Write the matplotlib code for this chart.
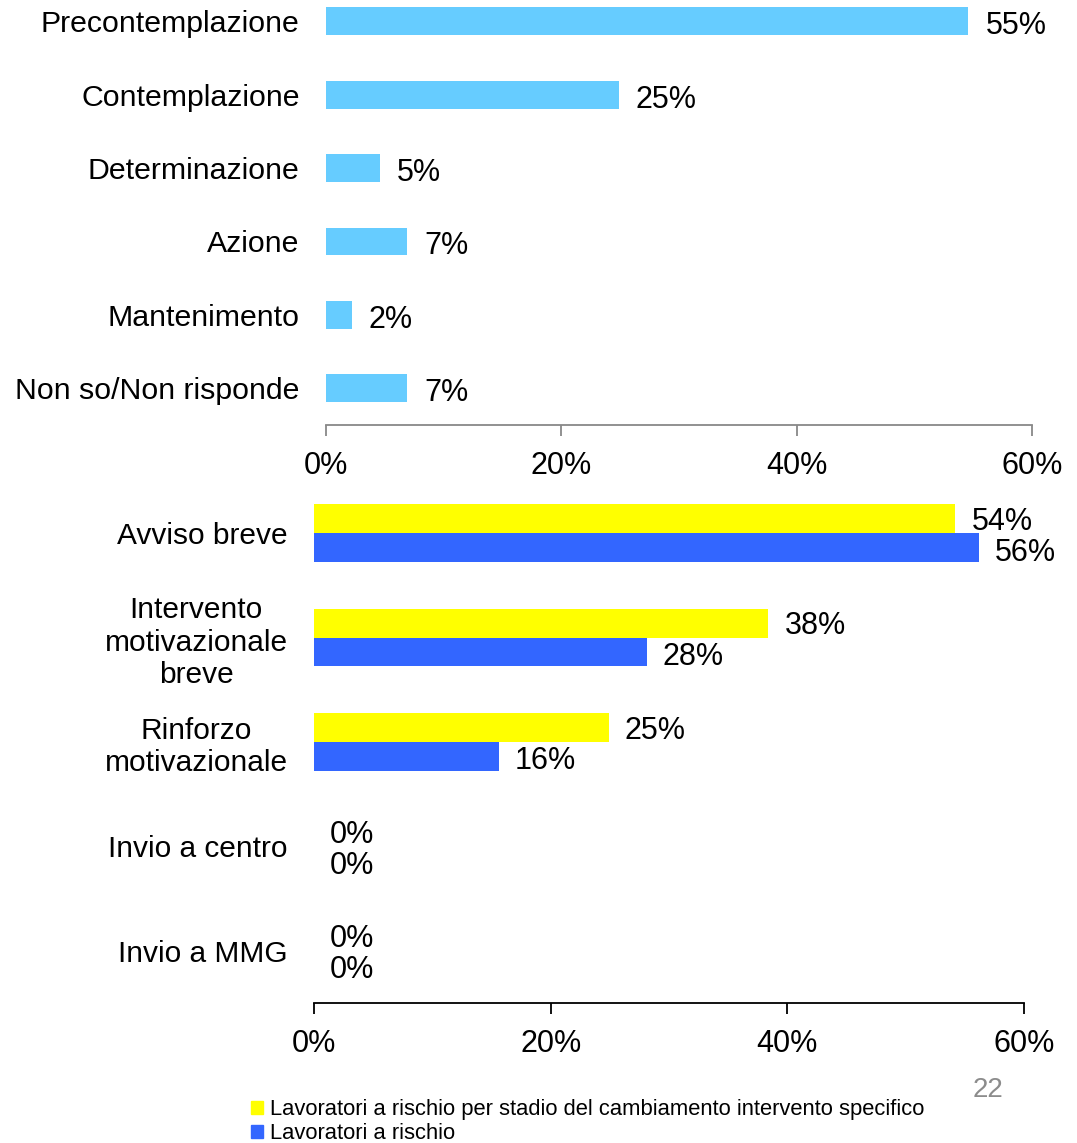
import matplotlib
matplotlib.use('Agg')
import matplotlib.pyplot as plt
from matplotlib.patches import Patch
from matplotlib import font_manager

# dati (percentuali)
stadi = ['Precontemplazione', 'Contemplazione', 'Determinazione', 'Azione',
         'Mantenimento', 'Non so/Non risponde']
stadi_val = [54.6, 24.9, 4.6, 6.9, 2.2, 6.9]

interventi = ['Avviso breve', 'Intervento\nmotivazionale\nbreve', 'Rinforzo\nmotivazionale',
              'Invio a centro', 'Invio a MMG']
specifico_val = [54.2, 38.4, 24.9, 0, 0]
rischio_val = [56.2, 28.1, 15.6, 0, 0]

serie_nomi = ['Lavoratori a rischio per stadio del cambiamento intervento specifico',
              'Lavoratori a rischio']
tick_val = [0, 20, 40, 60]
tick_lab = ['0%', '20%', '40%', '60%']

# font: Arial-like, numeri in versione stretta se disponibile
nomi = {f.name for f in font_manager.fontManager.ttflist}
font_base = 'Liberation Sans'
font_num = 'Liberation Sans Narrow' if 'Liberation Sans Narrow' in nomi else 'Liberation Sans'
plt.rcParams['font.family'] = [font_base, 'DejaVu Sans']

fig = plt.figure(figsize=(10.77, 11.43), dpi=100)
W, H = 1077, 1143


def ax_px(left, top, right, bottom):
    return fig.add_axes([left / W, 1 - bottom / H, (right - left) / W, (bottom - top) / H])


def stile_asse(ax, col):
    for s in ['top', 'right', 'left']:
        ax.spines[s].set_visible(False)
    ax.spines['bottom'].set_color(col)
    ax.spines['bottom'].set_linewidth(1.3)
    ax.set_xlim(0, 60)
    ax.set_xticks(tick_val)
    ax.set_xticklabels(tick_lab, fontsize=22, family=font_num)
    ax.tick_params(axis='x', colors=col, length=8, width=1.3, pad=11, labelcolor='black')
    ax.tick_params(axis='y', length=0, pad=19)


# grafico in alto
ax1 = ax_px(326, 0, 1032, 425)
y1 = list(range(len(stadi)))
ax1.barh(y1, stadi_val, height=0.38, color='#66ccff')
ax1.set_ylim(5.5, -0.29)
ax1.set_yticks(y1)
ax1.set_yticklabels(stadi, fontsize=21.8)
stile_asse(ax1, '#888888')
for y, v in zip(y1, stadi_val):
    ax1.annotate(f'{v:.0f}%', (v, y), xytext=(17, -5), textcoords='offset pixels',
                 ha='left', va='center', fontsize=22, family=font_num)

# grafico in basso
ax2 = ax_px(314, 481, 1024, 1003)
y2 = list(range(len(interventi)))
h = 0.276
ax2.barh([y - h / 2 for y in y2], specifico_val, height=h, color='#ffff00')
ax2.barh([y + h / 2 for y in y2], rischio_val, height=h, color='#3366ff')
ax2.set_ylim(4.5, -0.5)
ax2.set_yticks(y2)
ax2.set_yticklabels(interventi, fontsize=21.5, multialignment='center')
stile_asse(ax2, 'black')
for y, v in zip(y2, specifico_val):
    ax2.annotate(f'{v:.0f}%', (v, y - h / 2), xytext=(16, -3), textcoords='offset pixels',
                 ha='left', va='center', fontsize=22, family=font_num)
for y, v in zip(y2, rischio_val):
    ax2.annotate(f'{v:.0f}%', (v, y + h / 2), xytext=(16, -5), textcoords='offset pixels',
                 ha='left', va='center', fontsize=22, family=font_num)

# legenda
handles = [Patch(color='#ffff00'), Patch(color='#3366ff')]
fig.legend(handles, serie_nomi, loc='upper left', bbox_to_anchor=(240 / W, 1 - 1088 / H),
           frameon=False, handlelength=0.55, handleheight=0.55, handletextpad=0.3,
           labelspacing=0.15, borderpad=0, prop={'family': font_num, 'size': 15.8})

# numero di pagina
fig.text(988 / W, 1 - 1090 / H, '22', color='#8c8c8c', fontsize=20, ha='center', va='center')

fig.savefig('out.png', dpi=100)
